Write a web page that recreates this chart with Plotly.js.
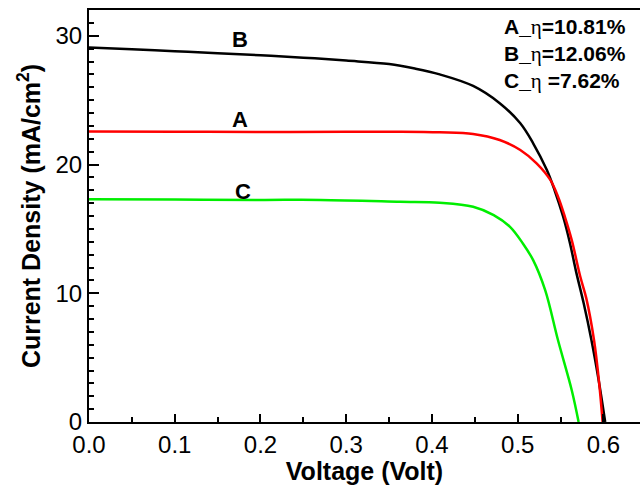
<!DOCTYPE html>
<html>
<head>
<meta charset="utf-8">
<script src="https://cdn.plot.ly/plotly-3.0.1.min.js"></script>
<style>html,body{margin:0;padding:0;background:#fff;}#chart{width:640px;height:485px;}</style>
</head>
<body>
<div id="chart"></div>
<script>
// Sample B (black)
const voltB = [0, 0.05, 0.1, 0.15, 0.2, 0.25, 0.3, 0.35, 0.38, 0.409, 0.448, 0.479, 0.503, 0.518, 0.534, 0.543, 0.553, 0.561, 0.568, 0.577, 0.586, 0.594, 0.602];
const currB = [29.08, 28.95, 28.8, 28.65, 28.48, 28.3, 28.07, 27.8, 27.45, 27.0, 26.1, 24.76, 23.2, 21.65, 19.57, 18.0, 15.94, 13.87, 11.7, 9.2, 6.35, 3.4, 0];
// Sample A (red)
const voltA = [0, 0.1, 0.2, 0.3, 0.363, 0.409, 0.448, 0.479, 0.503, 0.522, 0.538, 0.547, 0.555, 0.563, 0.573, 0.58, 0.589, 0.595, 0.599];
const currA = [22.57, 22.55, 22.52, 22.55, 22.55, 22.5, 22.37, 21.9, 21.13, 20.09, 18.8, 17.5, 15.94, 14.13, 11.28, 9.6, 6.35, 3.0, 0];
// Sample C (green)
const voltC = [0, 0.1, 0.2, 0.27, 0.363, 0.409, 0.448, 0.472, 0.491, 0.506, 0.518, 0.532, 0.547, 0.563, 0.571];
const currC = [17.3, 17.28, 17.25, 17.25, 17.11, 17.03, 16.72, 16.07, 15.16, 13.87, 12.57, 10.24, 6.35, 2.47, 0];

const curveLabels = ["B", "A", "C"];
const labelV = [0.176, 0.176, 0.18];
const labelJ = [29.7, 23.5, 17.9];

const effNames = ["A", "B", "C"];
const effValues = ["=10.81%", "=12.06%", " =7.62%"];
const effJ = [30.7, 28.6, 26.45];
const effV = 0.482;

const FONT = "Liberation Sans, Arial, sans-serif";

const traces = [
  {x: voltB, y: currB, name: "B", mode: "lines", line: {color: "#000000", width: 2.5, shape: "spline", smoothing: 1}},
  {x: voltA, y: currA, name: "A", mode: "lines", line: {color: "#ff0000", width: 2.5, shape: "spline", smoothing: 1}},
  {x: voltC, y: currC, name: "C", mode: "lines", line: {color: "#00ee00", width: 2.5, shape: "spline", smoothing: 1}}
];

const annotations = [];
curveLabels.forEach((t, i) => {
  annotations.push({x: labelV[i], y: labelJ[i], xref: "x", yref: "y", text: "<b>" + t + "</b>", showarrow: false,
    font: {family: FONT, size: 22, color: "#000"}, xanchor: "center", yanchor: "middle"});
});
effNames.forEach((n, i) => {
  annotations.push({x: effV, y: effJ[i], xref: "x", yref: "y",
    text: "<b>" + n + "_</b><span style=\"font-family:'Liberation Serif',serif;font-weight:normal\">η</span><b>" + effValues[i] + "</b>",
    showarrow: false, font: {family: FONT, size: 21, color: "#000"}, xanchor: "left", yanchor: "middle"});
});

const layout = {
  width: 640, height: 485,
  margin: {l: 89, r: 0, t: 10, b: 63},
  paper_bgcolor: "#fff", plot_bgcolor: "#fff",
  showlegend: false,
  font: {family: FONT, color: "#000"},
  xaxis: {
    range: [0, 0.6426], dtick: 0.1, tick0: 0, tickformat: ".1f",
    ticks: "inside", ticklen: 8, tickwidth: 2, tickcolor: "#000",
    minor: {dtick: 0.05, ticks: "inside", ticklen: 5, tickwidth: 2, tickcolor: "#000"},
    showline: true, linewidth: 2, linecolor: "#000", mirror: true,
    showgrid: false, zeroline: false,
    tickfont: {family: FONT, size: 24, color: "#000"},
    title: {text: "<b>Voltage (Volt)</b>", font: {family: FONT, size: 25, color: "#000"}, standoff: 4}
  },
  yaxis: {
    range: [0, 32], dtick: 10, tick0: 0,
    ticks: "inside", ticklen: 10, tickwidth: 2, tickcolor: "#000",
    minor: {dtick: 1, ticks: "inside", ticklen: 5, tickwidth: 2, tickcolor: "#000"},
    showline: true, linewidth: 2, linecolor: "#000",
    showgrid: false, zeroline: false,
    tickfont: {family: FONT, size: 24, color: "#000"},
    title: {text: "<b>Current Density (mA/cm<sup>2</sup>)</b>", font: {family: FONT, size: 25, color: "#000"}, standoff: 8}
  },
  annotations: annotations
};

Plotly.newPlot("chart", traces, layout, {displayModeBar: false});
</script>
</body>
</html>
